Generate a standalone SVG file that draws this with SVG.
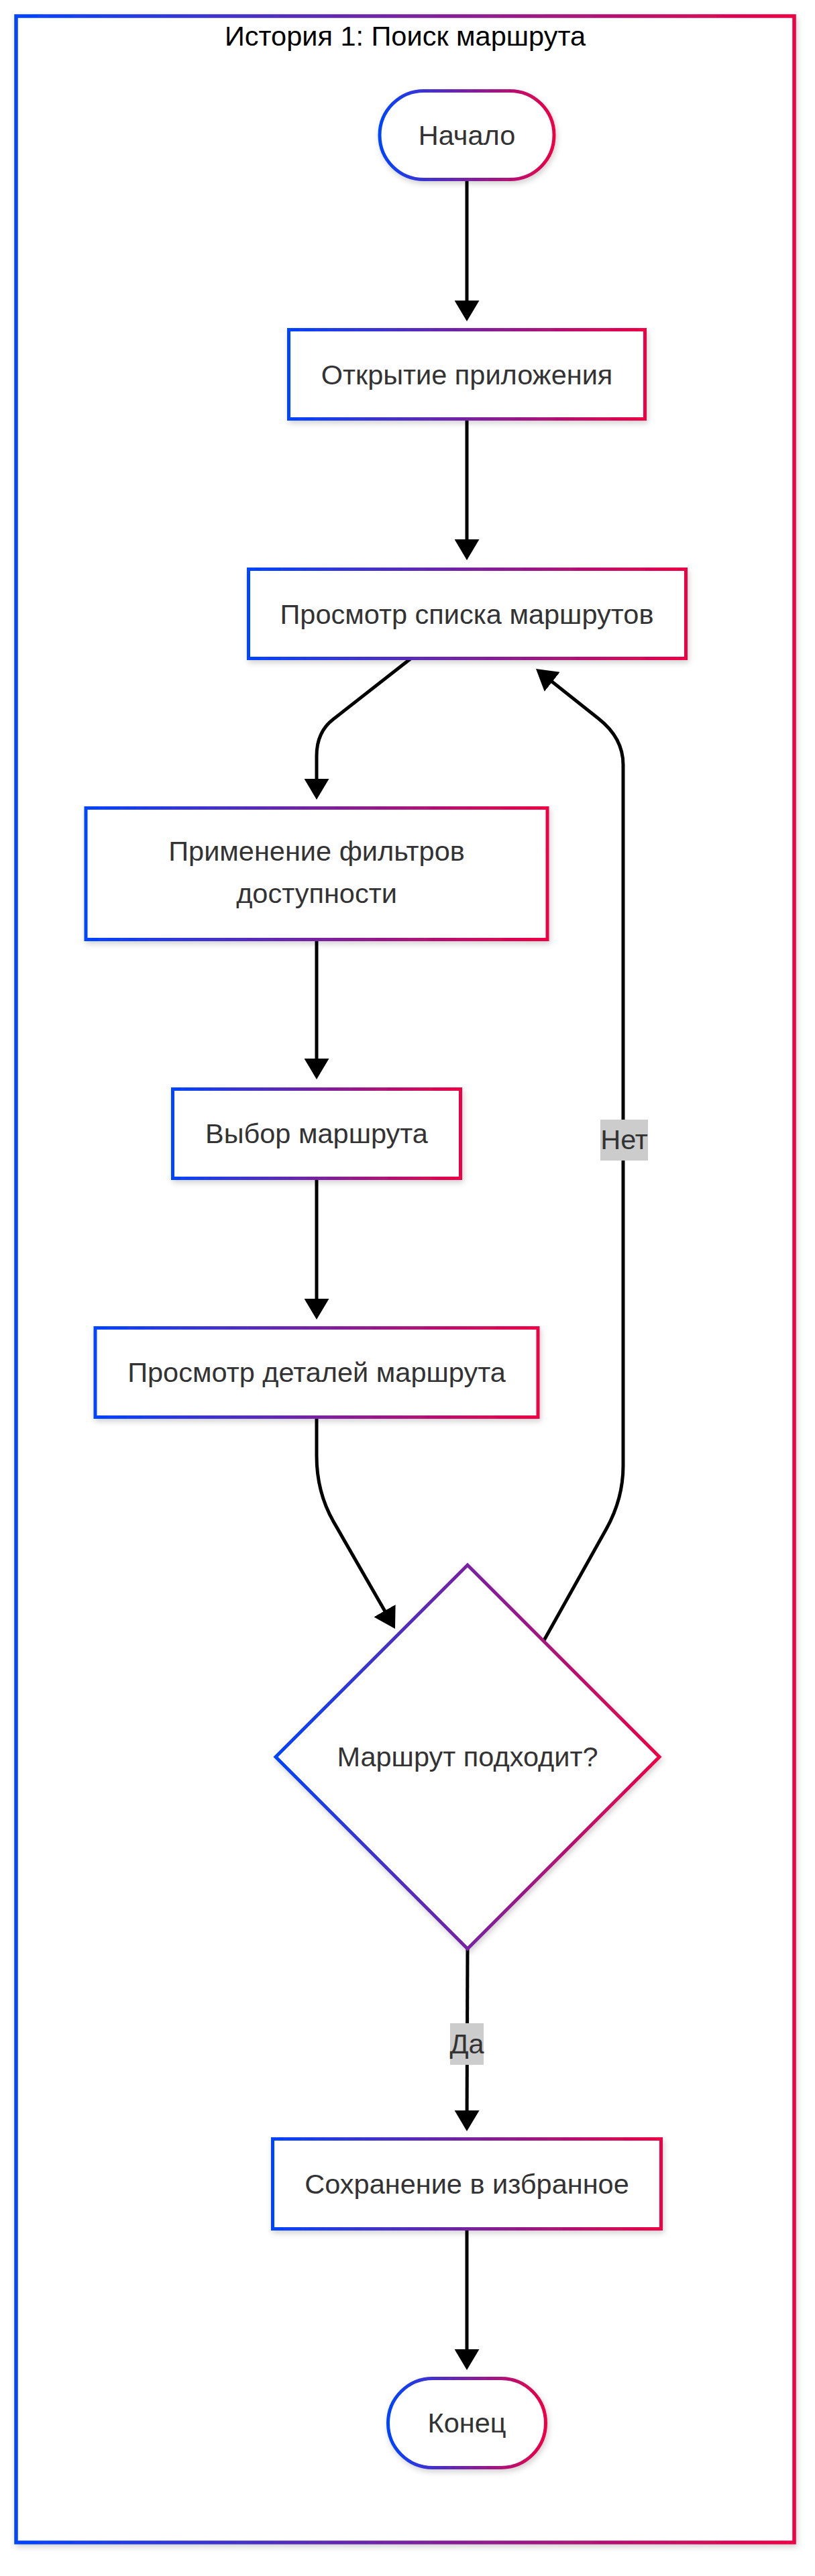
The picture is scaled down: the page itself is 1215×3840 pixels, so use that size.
<svg xmlns="http://www.w3.org/2000/svg" width="1215" height="3840" viewBox="0 0 1215 3840">
<defs>
<linearGradient id="grad" x1="0" y1="0" x2="1" y2="0">
<stop offset="0" stop-color="#0044ff"/>
<stop offset="1" stop-color="#ee0044"/>
</linearGradient>
<filter id="shadow" x="-20%" y="-20%" width="140%" height="140%">
<feDropShadow dx="2" dy="4" stdDeviation="4" flood-color="#000" flood-opacity="0.18"/>
</filter>
<marker id="arrow" markerUnits="userSpaceOnUse" markerWidth="31" markerHeight="37" viewBox="0 0 31 37" refX="26" refY="18.5" orient="auto">
<path d="M0,0 L31,18.5 L0,37 z" fill="#000"/>
</marker>
</defs>
<style>
.node{fill:#fff;stroke:url(#grad);stroke-width:5;filter:url(#shadow)}
.frame{fill:#fff;stroke:url(#grad);stroke-width:5.5;filter:url(#shadow)}
.lbl{font-family:"Liberation Sans",Arial,sans-serif;font-size:41.5px;fill:#333;text-anchor:middle}
.title{font-family:"Liberation Sans",Arial,sans-serif;font-size:41.5px;fill:#000;text-anchor:middle}
.edge{fill:none;stroke:#000;stroke-width:5;marker-end:url(#arrow)}
.ebg{fill:#cccccc}
</style>
<rect width="1215" height="3840" fill="#fff"/>
<g id="frame">
<rect class="frame" x="24" y="24" width="1160" height="3766"/>
<text class="title" x="604" y="68">История 1: Поиск маршрута</text>
</g>
<g id="connectors">
<path class="edge" d="M696 270 L696 474"/>
<path class="edge" d="M696 627 L696 830"/>
<path class="edge" d="M612 982 L497 1072 Q472 1091 472 1127 L472 1187"/>
<path class="edge" d="M472 1403 L472 1604"/>
<path class="edge" d="M472 1759 L472 1962"/>
<path class="edge" d="M472 2115 L472 2170 Q472 2224 497 2268 L586.5 2423.7"/>
<path class="edge" d="M810 2447 L904 2279 Q929 2234 929 2185 L929 1140 Q929 1100 892 1071 L802.9 1000.2"/>
<path class="edge" d="M697 2905 L696 3172"/>
<path class="edge" d="M696 3325 L696 3528"/>
<g id="label-no">
<rect class="ebg" x="895" y="1669" width="71" height="61"/>
<text class="lbl" x="930.5" y="1713">Нет</text>
</g>
<g id="label-yes">
<rect class="ebg" x="671" y="3016" width="50" height="62"/>
<text class="lbl" x="696" y="3061">Да</text>
</g>
</g>
<g id="start">
<rect class="node" x="566" y="135.5" width="260" height="132" rx="66" ry="66"/>
<text class="lbl" x="696" y="216">Начало</text>
</g>
<g id="open-app">
<rect class="node" x="430.5" y="491.5" width="531" height="133"/>
<text class="lbl" x="696" y="572.5">Открытие приложения</text>
</g>
<g id="view-list">
<rect class="node" x="370.5" y="848.5" width="652" height="133"/>
<text class="lbl" x="696" y="929.5">Просмотр списка маршрутов</text>
</g>
<g id="apply-filters">
<rect class="node" x="128" y="1204.5" width="688" height="196"/>
<text class="lbl" x="472" y="1283">Применение фильтров</text>
<text class="lbl" x="472" y="1346">доступности</text>
</g>
<g id="select-route">
<rect class="node" x="257.5" y="1623.5" width="429" height="133"/>
<text class="lbl" x="472" y="1704">Выбор маршрута</text>
</g>
<g id="view-details">
<rect class="node" x="142" y="1979.5" width="660" height="133"/>
<text class="lbl" x="472" y="2060">Просмотр деталей маршрута</text>
</g>
<g id="decision">
<polygon class="node" points="697,2333 983,2619 697,2905 411,2619"/>
<text class="lbl" x="697" y="2633">Маршрут подходит?</text>
</g>
<g id="save-fav">
<rect class="node" x="406.5" y="3188.5" width="579" height="134"/>
<text class="lbl" x="696" y="3270">Сохранение в избранное</text>
</g>
<g id="end">
<rect class="node" x="578.5" y="3545.5" width="235" height="133" rx="66.5" ry="66.5"/>
<text class="lbl" x="696" y="3626">Конец</text>
</g>
</svg>
